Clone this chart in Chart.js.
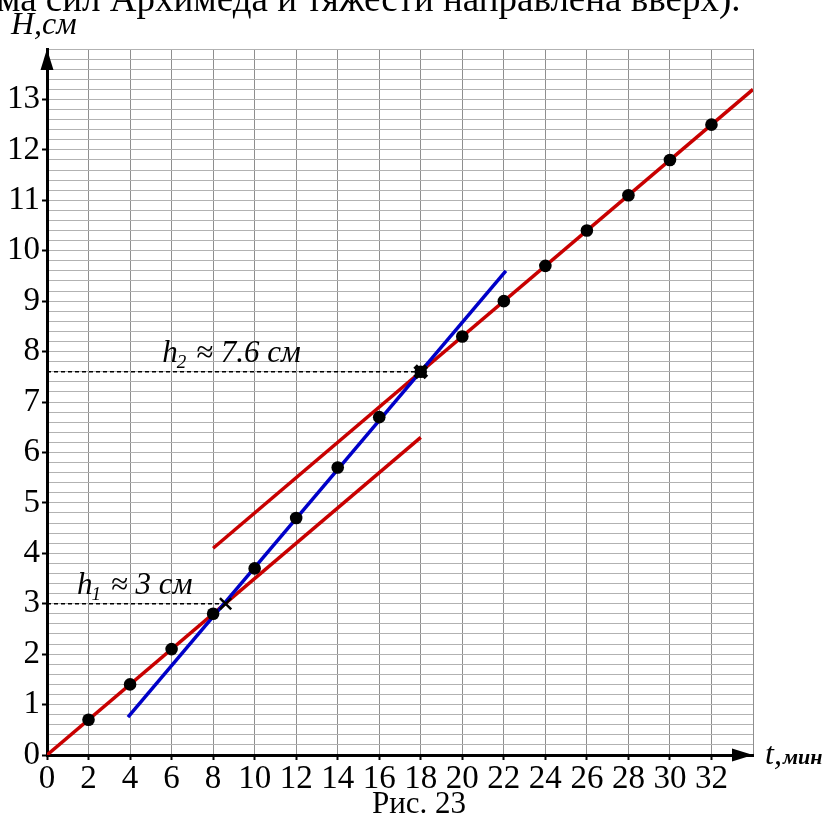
<!DOCTYPE html>
<html>
<head>
<meta charset="utf-8">
<script src="https://cdn.jsdelivr.net/npm/chart.js@4.4.1/dist/chart.umd.min.js"></script>
<style>
  html, body { margin: 0; padding: 0; background: #fff; }
  #wrap { position: relative; width: 827px; height: 818px; }
</style>
</head>
<body>
<div id="wrap"><canvas id="chart"></canvas></div>
<script>
"use strict";

/* ─── DATA ─── */
const timeMin  = [2, 4, 6, 8, 10, 12, 14, 16, 18, 20, 22, 24, 26, 28, 30, 32];
const heightCm = [0.7, 1.4, 2.1, 2.8, 3.7, 4.7, 5.7, 6.7, 7.6, 8.3, 9.0, 9.7, 10.4, 11.1, 11.8, 12.5];

// fitted straight lines (end points)
const lowFitT  = [0, 18],     lowFitH  = [0, 6.3];
const highFitT = [8, 34],     highFitH = [4.1, 13.2];
const meltT    = [3.9, 22.1], meltH    = [0.75, 9.6];

// intersections and read-off heights
const crossT = [8.6, 18];
const crossH = [3, 7.6];
const h1 = 3, h2 = 7.6;

const xMax = 34, yMax = 14;
const xLabelMax = 32, yLabelMax = 13;

/* ─── STYLE ─── */
const C = { red: "#c80000", blue: "#0000c8", ink: "#000", gridH: "#b2b2b2", gridV: "#8e8e8e" };
const SERIF = "'Liberation Serif', 'Times New Roman', serif";

const pts = (xs, ys) => xs.map((x, i) => ({ x, y: ys[i] }));
const isWhole = v => Math.abs(v - Math.round(v)) < 1e-6;

/* ─── ARROWS + TEXT ─── */
function drawH(ctx, sub, rest, x, y) {
  ctx.font = `italic 31px ${SERIF}`;
  ctx.fillText("h", x, y);
  let w = ctx.measureText("h").width;
  ctx.font = `italic 19px ${SERIF}`;
  ctx.fillText(sub, x + w - 1, y + 6);
  w += ctx.measureText(sub).width;
  ctx.font = `italic 31px ${SERIF}`;
  ctx.fillText(rest, x + w + 1, y);
}

const decor = {
  id: "decor",
  afterDraw(chart) {
    const { ctx, scales: { x, y } } = chart;
    const x0 = x.getPixelForValue(0), y0 = y.getPixelForValue(0);
    const xe = x.getPixelForValue(xMax), ye = y.getPixelForValue(yMax);
    ctx.save();
    ctx.fillStyle = C.ink;
    // axis arrow heads
    ctx.beginPath();
    ctx.moveTo(xe, y0); ctx.lineTo(xe - 21, y0 - 6.5); ctx.lineTo(xe - 21, y0 + 6.5);
    ctx.closePath(); ctx.fill();
    ctx.beginPath();
    ctx.moveTo(x0, ye); ctx.lineTo(x0 - 6.5, ye + 21); ctx.lineTo(x0 + 6.5, ye + 21);
    ctx.closePath(); ctx.fill();

    ctx.textBaseline = "alphabetic";
    ctx.textAlign = "left";
    // header fragment
    ctx.font = `37px ${SERIF}`;
    ctx.fillText("ма сил Архимеда и тяжести направлена вверх).", -3, 11);
    // axis names
    ctx.font = `italic 32px ${SERIF}`;
    ctx.fillText("H,см", 11, 34);
    ctx.fillText("t,", 765, 764);
    const tw = ctx.measureText("t,").width;
    ctx.font = `italic bold 22px ${SERIF}`;
    ctx.fillText("мин", 765 + tw + 1, 764);
    // read-off labels
    drawH(ctx, "1", " ≈ 3 см", x.getPixelForValue(1.45), y.getPixelForValue(3.2));
    drawH(ctx, "2", " ≈ 7.6 см", x.getPixelForValue(5.55), y.getPixelForValue(7.8));
    // caption
    ctx.font = `31px ${SERIF}`;
    ctx.textAlign = "center";
    ctx.fillText("Рис. 23", 419, 813);
    ctx.restore();
  }
};

/* ─── CHART ─── */
const lineDs = (data, color, width, dash) => ({
  type: "line", data, borderColor: color, borderWidth: width,
  borderDash: dash || [], pointRadius: 0, fill: false, tension: 0,
});

new Chart(document.getElementById("chart"), {
  type: "scatter",
  data: {
    datasets: [
      {
        data: pts(crossT, crossH), pointStyle: "crossRot",
        pointRadius: [8, 8], borderColor: C.ink, borderWidth: [2.5, 5], backgroundColor: C.ink,
      },
      { data: pts(timeMin, heightCm), pointRadius: 6.3, backgroundColor: C.ink, borderWidth: 0 },
      lineDs(pts(meltT, meltH), C.blue, 3.5),
      lineDs(pts(highFitT, highFitH), C.red, 3.5),
      lineDs(pts(lowFitT, lowFitH), C.red, 3.5),
      lineDs(pts([0, crossT[0]], [h1, h1]), C.ink, 1.6, [4, 3]),
      lineDs(pts([0, crossT[1]], [h2, h2]), C.ink, 1.6, [4, 3]),
    ]
  },
  options: {
    responsive: true, maintainAspectRatio: false, animation: false,
    layout: { padding: { left: 0, top: 49, right: 74, bottom: 0 } },
    plugins: { legend: { display: false }, tooltip: { enabled: false } },
    scales: {
      x: {
        type: "linear", min: 0, max: xMax,
        afterFit: s => { s.height = 63; },
        border: { color: C.ink, width: 3 },
        grid: {
          color: C.gridV, lineWidth: 1, tickLength: 5, tickWidth: 2,
          tickColor: c => (c.tick && c.tick.value <= xLabelMax ? C.ink : "rgba(0,0,0,0)"),
        },
        ticks: {
          stepSize: 2, autoSkip: false, maxRotation: 0, padding: 0,
          color: C.ink, font: { family: SERIF, size: 33 },
          callback: v => (v <= xLabelMax ? String(v) : ""),
        },
      },
      y: {
        type: "linear", min: 0, max: yMax,
        afterFit: s => { s.width = 47; },
        border: { color: C.ink, width: 3 },
        grid: {
          color: C.gridH, lineWidth: 1, tickLength: 5, tickWidth: 2,
          tickColor: c => (c.tick && isWhole(c.tick.value) && c.tick.value <= yLabelMax ? C.ink : "rgba(0,0,0,0)"),
        },
        ticks: {
          stepSize: 0.2, maxTicksLimit: 200, autoSkip: false, padding: 2,
          color: C.ink, font: { family: SERIF, size: 33 },
          callback: v => (isWhole(v) && v <= yLabelMax ? String(Math.round(v)) : ""),
        },
      },
    },
  },
  plugins: [decor],
});
</script>
</body>
</html>
